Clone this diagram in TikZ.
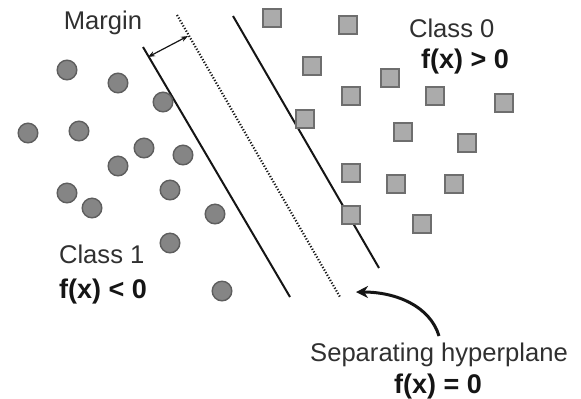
\documentclass[tikz,border=0pt]{standalone}
\usepackage{fontspec}
\setmainfont{Liberation Sans}
\usetikzlibrary{arrows.meta}
\definecolor{DotFill}{HTML}{858585}
\definecolor{DotEdge}{HTML}{5E5E5E}
\definecolor{BoxFill}{HTML}{ABABAB}
\definecolor{BoxEdge}{HTML}{6E6E6E}
\definecolor{InkDark}{HTML}{151515}
\definecolor{InkText}{HTML}{303030}
\newcommand{\labfont}{\fontsize{12.8}{15}\selectfont}
\newcommand{\eqfont}{\fontsize{13.5}{16}\selectfont\bfseries}

\begin{document}
\begin{tikzpicture}[x=0.5pt, y=-0.5pt, font=\labfont,
    classone/.style={circle, fill=DotFill, draw=DotEdge, line width=0.7pt,
                     inner sep=0pt, minimum size=9.8pt},
    classzero/.style={rectangle, fill=BoxFill, draw=BoxEdge, line width=0.7pt,
                      inner sep=0pt, minimum size=9pt}]
    \useasboundingbox (0,0) rectangle (581,398);
    % margin boundaries and separating hyperplane
    \coordinate (lowtop) at (143,47);
    \coordinate (lowbot) at (290,297);
    \coordinate (midtop) at (177,15);
    \coordinate (midbot) at (340,297);
    \coordinate (uptop) at (233,16);
    \coordinate (upbot) at (379,268);
    \draw[InkDark, line width=1pt] (lowtop) -- (lowbot);
    \draw[InkDark, line width=1pt] (uptop) -- (upbot);
    \draw[InkDark, line width=1.1pt, dash pattern=on 0.6pt off 0.9pt]
      (midtop) -- (midbot);
    % class 1 samples (circles)
    \foreach \px/\py [count=\i] in {67/70, 118/83, 163/102, 28/133, 79/131,
        144/148, 183/155, 118/166, 67/193, 170/190, 92/208, 215/214,
        170/243, 222/291}
      \node[classone] (c\i) at (\px,\py) {};
    % class 0 samples (squares)
    \foreach \px/\py [count=\i] in {272/18, 348/25, 312/66, 390/78, 351/96,
        435/96, 504/103, 305/119, 403/132, 467/143, 351/173, 396/184,
        454/184, 351/215, 422/224}
      \node[classzero] (s\i) at (\px,\py) {};
    % margin width
    \coordinate (mleft) at (148,57);
    \coordinate (mright) at (188,36);
    \draw[InkDark, line width=0.6pt, {Stealth[length=3.5pt]}-{Stealth[length=3.5pt]}]
      (mleft) -- (mright);
    % labels
    \node[InkText] (margin) at (103,23) {Margin};
    \node[InkText, anchor=west] (cls0) at (402,28) {Class 0};
    \node[InkDark, anchor=west, font=\eqfont] (fpos) at (414,62) {f(x) > 0};
    \node[InkText, anchor=west] (cls1) at (52,254) {Class 1};
    \node[InkDark, anchor=west, font=\eqfont] (fneg) at (52,292) {f(x) < 0};
    \node[InkText] (sep) at (439,355) {Separating hyperplane};
    \node[InkDark, font=\eqfont] (fzero) at (438,387) {f(x) = 0};
    % pointer to the hyperplane
    \coordinate (tail) at (439,336);
    \coordinate (tip) at (356,292);
    \draw[InkDark, line width=1.5pt, -{Stealth[length=6pt, width=6pt]}]
      (tail) .. controls (430,306) and (396,292) .. (tip);
\end{tikzpicture}
\end{document}
